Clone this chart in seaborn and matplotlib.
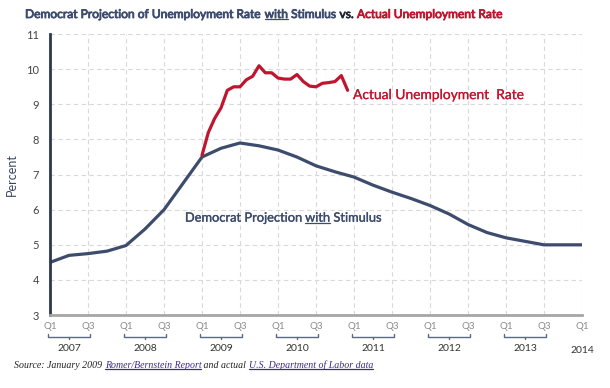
import numpy as np
import pandas as pd
import matplotlib
import matplotlib.pyplot as plt
import matplotlib.transforms as mtransforms
import matplotlib.patheffects as pe
import seaborn as sns

matplotlib.use("Agg")

# quarterly projection, Q1 2007 .. Q1 2014 (index 0..28)
quarters = list(range(29))
projection = [4.5, 4.7, 4.75, 4.82, 4.98, 5.45, 6.0, 6.75, 7.5, 7.75, 7.9, 7.82,
              7.7, 7.5, 7.25, 7.08, 6.93, 6.7, 6.5, 6.32, 6.12, 5.88, 5.58, 5.35,
              5.2, 5.1, 5.0, 5.0, 5.0]

# monthly actual rate, Jan 2009 .. Dec 2010
months = list(range(24))
actual = [7.55, 8.2, 8.6, 8.9, 9.4, 9.5, 9.5, 9.7, 9.8, 10.1, 9.9, 9.9,
          9.75, 9.72, 9.72, 9.85, 9.65, 9.52, 9.5, 9.6, 9.62, 9.65, 9.82, 9.4]

years = ["2007", "2008", "2009", "2010", "2011", "2012", "2013"]

NAVY = "#3d4c6d"
RED = "#c0152f"

sns.set_style("white")
plt.rcParams["font.family"] = ["Lato", "DejaVu Sans"]

df_proj = pd.DataFrame({"q": quarters, "rate": projection})
df_act = pd.DataFrame({"q": [8 + m / 3 for m in months], "rate": actual})

fig = plt.figure(figsize=(6.1, 3.88), dpi=100)
ax = fig.add_axes([0.082, 0.188, 0.872, 0.724])

sns.lineplot(data=df_proj, x="q", y="rate", ax=ax, color=NAVY, linewidth=2.3)
sns.lineplot(data=df_act, x="q", y="rate", ax=ax, color=RED, linewidth=2.3)

ax.set_xlim(0, 28)
ax.set_ylim(3, 11)
ax.set_yticks(range(3, 12))
ax.set_xticks(range(0, 29, 2))
ax.set_xticklabels([])
ax.tick_params(axis="both", length=0)
ax.tick_params(axis="y", labelsize=8, labelcolor="#444444", pad=8)
ax.grid(True, linestyle=(0, (4, 3)), color="#d9d9d9", linewidth=0.8)
ax.set_xlabel("")
ax.set_ylabel("Percent", fontsize=9, color="#3a4660", labelpad=6)
for s in ["top", "right"]:
    ax.spines[s].set_visible(False)
ax.spines["left"].set_color("#2c3750")
ax.spines["left"].set_linewidth(2)
ax.spines["bottom"].set_color("#a6a6a6")
ax.spines["bottom"].set_linewidth(2)

# quarter labels, braces and years under the axis
trans = mtransforms.blended_transform_factory(ax.transData, ax.transAxes)
for k, yr in enumerate(years):
    q1 = 4 * k
    for pos, lab in [(q1, "Q1"), (q1 + 2, "Q3")]:
        ax.text(pos, -0.04, lab, transform=trans, ha="center", va="center",
                fontsize=7, color="#8a8a8a")
    bx = [q1 - 0.1, q1 - 0.1, q1 + 2.1, q1 + 2.1]
    by = [-0.068, -0.078, -0.078, -0.068]
    ax.plot(bx, by, transform=trans, color="#5a6a85", linewidth=1, clip_on=False)
    ax.plot([q1 + 1, q1 + 1], [-0.078, -0.086], transform=trans,
            color="#5a6a85", linewidth=1, clip_on=False)
    ax.text(q1 + 1, -0.118, yr, transform=trans, ha="center", va="center",
            fontsize=7.5, color="#333333")
ax.text(28, -0.04, "Q1", transform=trans, ha="center", va="center",
        fontsize=7, color="#8a8a8a")
ax.text(28, -0.125, "2014", transform=trans, ha="center", va="center",
        fontsize=7.5, color="#333333")

renderer = fig.canvas.get_renderer()


def run_text(x, y, pieces, size, family=None, style="normal",
             weight="normal", width=None, stroke=0):
    # x, y in pixels; draw pieces one after another, underlining where asked
    kw = dict(color="black", style=style, weight=weight, va="baseline", ha="left")
    if family:
        kw["family"] = family
    if width:
        probe = fig.text(0, 0, "".join(p[0] for p in pieces), transform=None,
                         fontsize=size, **kw)
        size = size * width / probe.get_window_extent(renderer).width
        probe.remove()
    for txt, color, underline in pieces:
        kw["color"] = color
        t = fig.text(x, y, txt, transform=None, fontsize=size, **kw)
        if stroke:
            t.set_path_effects([pe.withStroke(linewidth=stroke, foreground=color)])
        ext = t.get_window_extent(renderer)
        if underline:
            fig.add_artist(plt.Line2D([ext.x0, ext.x1], [ext.y0 + 1, ext.y0 + 1],
                                      transform=None, color=color, linewidth=0.9))
        x = ext.x1


# title
run_text(25, 388 - 18, [
    ("Democrat Projection of Unemployment Rate ", NAVY, False),
    ("with", NAVY, True),
    (" Stimulus ", NAVY, False),
    ("vs. ", "#1f2638", False),
    ("Actual Unemployment Rate", RED, False),
], 11, width=475, stroke=0.6)

# in-plot labels
x0, y0 = ax.transData.transform((7.1, 5.66))
run_text(x0, y0, [
    ("Democrat Projection ", NAVY, False),
    ("with", NAVY, True),
    (" Stimulus", NAVY, False),
], 9.5, width=198, stroke=0.25)
x0, y0 = ax.transData.transform((15.95, 9.15))
run_text(x0, y0, [("Actual Unemployment  Rate", RED, False)], 9.5,
         width=172, stroke=0.15)

# source line
run_text(14, 388 - 368, [
    ("Source: January 2009 ", "#222222", False),
    ("Romer/Bernstein Report", "#3c2a8c", True),
    (" and actual ", "#222222", False),
    ("U.S. Department of Labor data", "#3c2a8c", True),
], 8, family=["Liberation Serif", "DejaVu Serif"], style="italic", width=361)

fig.savefig("out.png", dpi=100)
